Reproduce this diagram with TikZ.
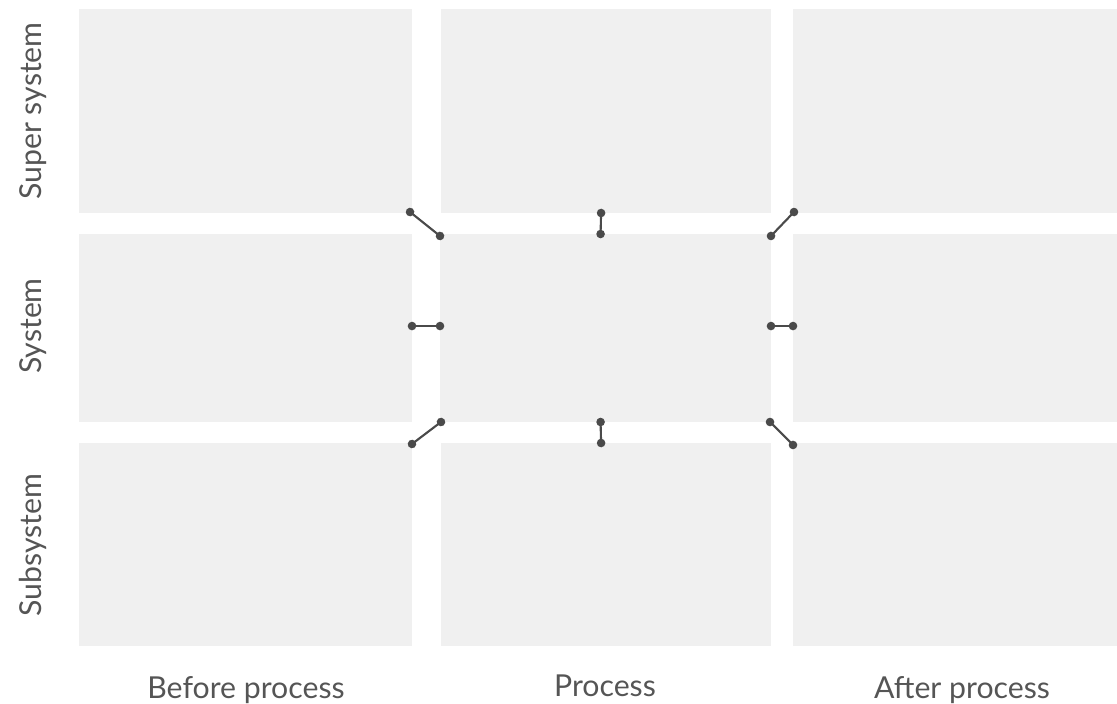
\documentclass[tikz,border=0pt]{standalone}
\usepackage{fontspec}
\setmainfont{Lato}
\usepackage{xcolor}
\usepackage{tikz}
\usetikzlibrary{positioning,arrows.meta,fit}
\definecolor{cellgray}{RGB}{240,240,240}
\definecolor{linkgray}{RGB}{74,74,74}
\definecolor{labelgray}{RGB}{85,85,85}

\begin{document}
\begin{tikzpicture}[x=0.25mm, y=-0.25mm,
		cell/.style={fill=cellgray, inner sep=0pt, outer sep=0pt},
		lbl/.style={text=labelgray, font=\fontsize{21.5}{24}\selectfont, inner sep=0pt},
		link/.style={{Circle[length=6pt,width=6pt]}-{Circle[length=6pt,width=6pt]}, line width=1.5pt, linkgray, shorten <=-3pt, shorten >=-3pt}]
		\useasboundingbox (0,0) rectangle (1117,703);
		% grid of cells
		\node[cell, fit={(79,9) (412,213)}] (supbefore) {};
		\node[cell, fit={(441,9) (771,213)}] (supproc) {};
		\node[cell, fit={(793,9) (1117,213)}] (supafter) {};
		\node[cell, fit={(79,234) (412,422)}] (sysbefore) {};
		\node[cell, fit={(440,234) (771,422)}] (sysproc) {};
		\node[cell, fit={(793,234) (1117,422)}] (sysafter) {};
		\node[cell, fit={(79,443) (412,646)}] (subbefore) {};
		\node[cell, fit={(441,443) (771,646)}] (subproc) {};
		\node[cell, fit={(793,443) (1117,646)}] (subafter) {};
		% row and column labels
		\node[lbl, rotate=90] (rowsup) at (33,111) {Super system};
		\node[lbl, rotate=90] (rowsys) at (33,326) {System};
		\node[lbl, rotate=90] (rowsub) at (33,545) {Subsystem};
		\node[lbl] (colbefore) at (246,690) {Before process};
		\node[lbl] (colproc) at (605,686) {Process};
		\node[lbl] (colafter) at (962,690) {After process};
		% links from the process cell
		\draw[link] ([xshift=-1.4pt,yshift=0.7pt]supbefore.south east) -- ([yshift=-1.4pt]sysproc.north west);
		\draw[link] ([xshift=-3.5pt]supproc.south) -- ([xshift=-3.5pt]sysproc.north);
		\draw[link] ([yshift=-1.4pt]sysproc.north east) -- ([xshift=0.7pt,yshift=0.7pt]supafter.south west);
		\draw[link] ([yshift=1.4pt]sysbefore.east) -- ([yshift=1.4pt]sysproc.west);
		\draw[link] ([yshift=1.4pt]sysproc.east) -- ([yshift=1.4pt]sysafter.west);
		\draw[link] ([yshift=-0.7pt]subbefore.north east) -- ([xshift=0.7pt]sysproc.south west);
		\draw[link] ([xshift=-3.5pt]sysproc.south) -- ([xshift=-3.5pt]subproc.north);
		\draw[link] ([xshift=-0.7pt]sysproc.south east) -- ([yshift=-1.4pt]subafter.north west);
	\end{tikzpicture}
\end{document}
